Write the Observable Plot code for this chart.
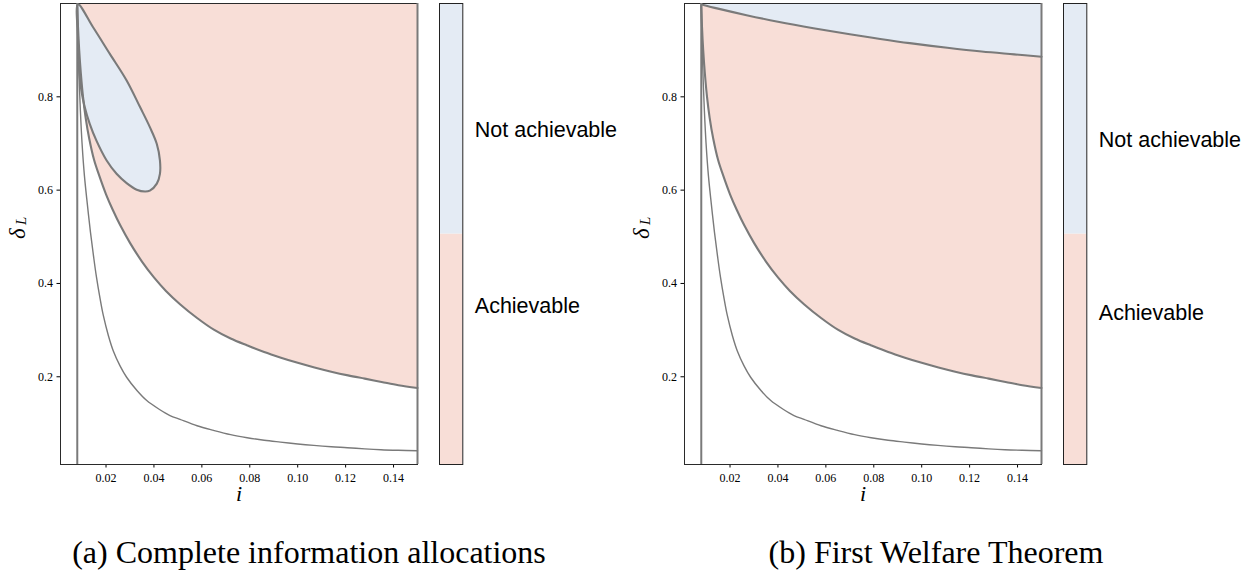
<!DOCTYPE html>
<html>
<head>
<meta charset="utf-8">
<script src="https://cdn.jsdelivr.net/npm/d3@7"></script>
<script src="https://cdn.jsdelivr.net/npm/@observablehq/plot@0.6"></script>
<style>
  body { margin: 0; background: #fff; }
  #root { position: relative; width: 1254px; height: 575px; background: #fff; overflow: hidden; }
  .slot { position: absolute; top: 0; }
  .slot svg { max-width: none !important; }
  .cap { position: absolute; width: 640px; text-align: center; font-family: "Liberation Serif", serif; font-size: 32px; line-height: 32px; color: #000; white-space: nowrap; }
</style>
</head>
<body>
<div id="root">
  <div id="pa" class="slot" style="left:0px; width:425px"></div>
  <div id="ca" class="slot" style="left:435px; width:190px"></div>
  <div id="pb" class="slot" style="left:624px; width:425px"></div>
  <div id="cb" class="slot" style="left:1059px; width:190px"></div>
  <div id="capA" class="cap" style="left:-11px; top:536px"></div>
  <div id="capB" class="cap" style="left:616px; top:536px"></div>
</div>
<script>
// ---------- data ----------
const xTicks = [0.02, 0.04, 0.06, 0.08, 0.10, 0.12, 0.14];
const yTicks = [0.2, 0.4, 0.6, 0.8];
const xDomain = [0.001, 0.15];
const yDomain = [0.012, 1.0];
const iMin = 0.008;               // vertical boundary
const iMax = 0.15;

// lower thin curve
const thinI = [0.0080, 0.0083, 0.0087, 0.0093, 0.0100, 0.0110, 0.0122, 0.0135, 0.0148, 0.0160, 0.0175, 0.0188, 0.0210, 0.0230, 0.0258, 0.0286, 0.0330, 0.0370, 0.0420, 0.0467, 0.0509, 0.0580, 0.0649, 0.0720, 0.0789, 0.0860, 0.0928, 0.1000, 0.1067, 0.1140, 0.1207, 0.1280, 0.1347, 0.1420, 0.1500];
const thinD = [0.995, 0.93, 0.85, 0.77, 0.70, 0.63, 0.570, 0.510, 0.458, 0.414, 0.368, 0.333, 0.288, 0.256, 0.224, 0.199, 0.170, 0.149, 0.131, 0.117, 0.1086, 0.095, 0.0851, 0.076, 0.0694, 0.064, 0.060, 0.056, 0.0529, 0.050, 0.048, 0.0455, 0.0437, 0.0425, 0.0416];

// middle curve (lower edge of the achievable region)
const midI = [0.0080, 0.0083, 0.0088, 0.0095, 0.0104, 0.0115, 0.0130, 0.0150, 0.0171, 0.0200, 0.0227, 0.0260, 0.0300, 0.0350, 0.0400, 0.0450, 0.0510, 0.0580, 0.0650, 0.0720, 0.0790, 0.0860, 0.0930, 0.1000, 0.1070, 0.1140, 0.1210, 0.1280, 0.1350, 0.1420, 0.1500];
const midD = [0.995, 0.95, 0.90, 0.85, 0.80, 0.755, 0.71, 0.665, 0.632, 0.591, 0.559, 0.524, 0.487, 0.447, 0.413, 0.384, 0.355, 0.326, 0.301, 0.282, 0.267, 0.253, 0.241, 0.230, 0.220, 0.211, 0.203, 0.196, 0.189, 0.182, 0.176];

// panel (a): closed "not achievable" loop
const loopI = [0.0083, 0.0146, 0.0216, 0.0286, 0.0342, 0.0383, 0.0412, 0.0425, 0.0425, 0.0412, 0.0383, 0.0363, 0.0328, 0.0286, 0.0244, 0.0202, 0.0160, 0.0132, 0.0111, 0.0097, 0.0087, 0.0083];
const loopD = [0.998, 0.949, 0.892, 0.835, 0.778, 0.735, 0.699, 0.664, 0.635, 0.614, 0.599, 0.597, 0.601, 0.615, 0.635, 0.664, 0.706, 0.742, 0.778, 0.814, 0.864, 0.928];

// panel (b): upper boundary
const upperI = [0.0081, 0.0150, 0.0269, 0.0400, 0.0548, 0.0700, 0.0827, 0.0950, 0.1107, 0.1250, 0.1386, 0.1500];
const upperD = [0.998, 0.989, 0.975, 0.961, 0.947, 0.934, 0.924, 0.915, 0.905, 0.897, 0.891, 0.886];

// legend
const legendLabels = ["Achievable", "Not achievable"];
const legendColors = ["#f8ded7", "#e4ebf4"];
const legendLo = [0, 0.5];
const legendHi = [0.5, 1];
const legendTicksA = [0.343, 0.725];
const legendTicksB = [0.328, 0.703];

const captions = ["(a) Complete information allocations", "(b) First Welfare Theorem"];

// ---------- build ----------
const pinkFill = legendColors[0], blueFill = legendColors[1];
const lineCol = "#7a7a7a";
const rows = (xs, ys) => xs.map((x, k) => ({i: x, d: ys[k]}));
const thinRows = rows(thinI, thinD);
const midRows = rows(midI, midD);
const loopRows = rows(loopI, loopD);
const upperRows = rows(upperI, upperD);

function panel(kind) {
  const marks = [];
  marks.push(Plot.areaY(midRows, {x: "i", y1: "d", y2: () => yDomain[1], fill: pinkFill, curve: "catmull-rom"}));
  if (kind === "b") {
    marks.push(Plot.areaY(upperRows, {x: "i", y1: "d", y2: () => yDomain[1], fill: blueFill, curve: "catmull-rom"}));
  } else {
    marks.push(Plot.line(loopRows, {x: "i", y: "d", fill: blueFill, stroke: null, curve: "catmull-rom-closed"}));
  }
  marks.push(Plot.frame({stroke: "#2a2a2a", strokeWidth: 1}));
  marks.push(Plot.ruleX([iMin], {stroke: lineCol, strokeWidth: 2}));
  marks.push(Plot.ruleX([iMax], {stroke: lineCol, strokeWidth: 2}));
  marks.push(Plot.line(thinRows, {x: "i", y: "d", stroke: lineCol, strokeWidth: 1.4, curve: "catmull-rom"}));
  marks.push(Plot.line(midRows, {x: "i", y: "d", stroke: lineCol, strokeWidth: 2.1, curve: "catmull-rom"}));
  if (kind === "b") {
    marks.push(Plot.line(upperRows, {x: "i", y: "d", stroke: lineCol, strokeWidth: 2.1, curve: "catmull-rom"}));
  } else {
    marks.push(Plot.line(loopRows, {x: "i", y: "d", stroke: lineCol, strokeWidth: 2.1, curve: "catmull-rom-closed"}));
  }
  marks.push(Plot.text(["i"], {text: d => d, frameAnchor: "bottom", lineAnchor: "middle", dy: 29, fontSize: 22, fontStyle: "italic", fontFamily: "Liberation Serif"}));
  marks.push(Plot.text(["δ"], {text: d => d, frameAnchor: "left", lineAnchor: "middle", dx: -43, dy: 5, rotate: -90, fontSize: 23, fontStyle: "italic", fontFamily: "Liberation Serif"}));
  marks.push(Plot.text(["L"], {text: d => d, frameAnchor: "left", lineAnchor: "middle", dx: -39, dy: -9, rotate: -90, fontSize: 15, fontStyle: "italic", fontFamily: "Liberation Serif"}));
  return Plot.plot({
    width: 425, height: 510,
    marginLeft: 60, marginRight: 8, marginTop: 3, marginBottom: 46,
    style: {fontFamily: "Liberation Serif", fontSize: "12px", background: "transparent", color: "#000"},
    x: {domain: xDomain, ticks: xTicks, tickFormat: d3.format(".2f"), label: null, tickSize: 3.5, tickPadding: 5},
    y: {domain: yDomain, ticks: yTicks, tickFormat: d3.format(".1f"), label: null, tickSize: 3.5, tickPadding: 4},
    marks
  });
}

function colorbar(tickPos) {
  const data = legendLabels.map((l, k) => ({label: l, lo: legendLo[k], hi: legendHi[k], c: legendColors[k]}));
  const labelAt = new Map(tickPos.map((t, k) => [t, legendLabels[k]]));
  const W = 190;
  return Plot.plot({
    width: W, height: 510,
    marginLeft: 4, marginRight: W - 4 - 23.3, marginTop: 3, marginBottom: 46,
    style: {fontFamily: "Liberation Sans", fontSize: "21.5px", background: "transparent", color: "#000"},
    x: {domain: [0, 1], axis: null},
    y: {domain: [0, 1], axis: "right", ticks: tickPos, tickFormat: d => labelAt.get(d), tickSize: 0, tickPadding: 12, label: null},
    marks: [
      Plot.rect(data, {x1: () => 0, x2: () => 1, y1: "lo", y2: "hi", fill: "c"}),
      Plot.frame({stroke: "#222", strokeWidth: 1})
    ]
  });
}

document.getElementById("pa").appendChild(panel("a"));
document.getElementById("pb").appendChild(panel("b"));
document.getElementById("ca").appendChild(colorbar(legendTicksA));
document.getElementById("cb").appendChild(colorbar(legendTicksB));
document.getElementById("capA").textContent = captions[0];
document.getElementById("capB").textContent = captions[1];
</script>
</body>
</html>
